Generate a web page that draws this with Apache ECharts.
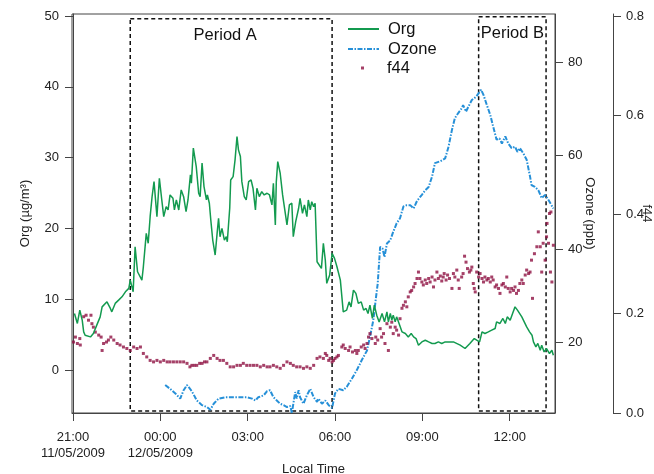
<!DOCTYPE html>
<html>
<head>
<meta charset="utf-8">
<script src="https://cdn.jsdelivr.net/npm/echarts@6/dist/echarts.min.js"></script>
<style>
html, body { margin: 0; padding: 0; background: #fff; }
#chart { width: 654px; height: 474px; }
</style>
</head>
<body>
<div id="chart"></div>
<script>
// Time is given in minutes after 21:00 on 11/05/2009.
const orgTime = [3,9,14,19,22,25,36,42,49,56,60,63,70,77,80,87,94,101,108,115,118,124,128,133,137,142,145,151,155,159,163,167,173,178,183,187,192,196,200,206,209,213,218,223,228,233,237,242,244,248,254,259,262,266,270,275,277,281,284,288,293,297,300,303,307,312,316,318,323,325,330,334,338,341,345,348,353,357,362,367,371,376,379,384,389,394,400,405,410,413,417,419,422,427,432,436,441,446,451,454,459,465,468,473,477,482,485,489,492,496,499,503,507,512,516,520,523,529,534,539,544,551,557,564,569,573,578,583,588,594,599,604,608,612,617,621,626,631,637,642,647,650,654,657,660,664,667,672,678,685,691,697,702,707,712,719,726,733,740,746,753,760,767,784,798,808,818,827,832,838,843,849,856,863,870,873,880,886,891,895,901,906,911,916,920,925,930,935,941,946,949,954,958,963,966,971,976,982,987,990];
const orgValue = [7.98,6.57,8.45,7.03,5.38,4.91,4.67,5.15,6.33,7.5,8.91,8.69,9.62,8.69,8.21,9.4,9.86,10.33,11.04,11.52,12.69,11.04,17.4,13.87,14.11,12.69,14.57,19.3,17.89,21.65,24.48,26.6,21.65,27.08,24.01,21.65,23.07,22.6,24.72,24.25,22.6,24.01,22.6,25.43,24.48,22.36,24.01,27.55,26.38,31.33,28.73,24.96,24.48,29.21,25.9,24.01,24.72,23.55,21.18,18.35,16.23,19.3,21.42,18.82,20.01,18.35,18.82,18.11,22.84,26.84,27.31,29.67,32.97,31.09,30.14,26.6,24.48,24.01,26.6,26.84,25.67,22.6,25.67,24.48,25.19,24.72,24.96,24.72,23.31,26.38,20.48,26.6,29.43,27.79,24.72,24.48,20.48,23.31,23.55,18.82,20.94,22.84,24.25,22.13,23.31,21.65,24.01,22.6,23.77,23.07,23.55,15.28,15.06,14.35,17.89,15.52,12.23,13.4,16.47,15.76,14.57,12.69,8.21,8.45,9.62,8.91,11.28,10.81,9.4,9.62,8.45,8.69,7.98,9.16,7.27,9.16,7.74,6.79,7.98,6.79,8.21,6.79,7.98,7.03,7.74,6.79,7.5,6.57,5.38,5.15,4.67,5.15,4.67,4.44,3.5,3.96,4.2,3.96,3.74,3.74,3.96,3.74,3.96,3.96,3.5,3.03,3.74,4.44,4.2,3.96,5.38,5.15,5.38,5.62,5.86,6.79,6.57,7.27,6.57,7.5,7.03,7.98,8.91,8.45,8.21,7.5,6.79,6.08,5.38,4.91,3.96,3.25,3.74,2.79,3.5,2.55,3.03,2.32,2.79,2.08];

const ozoneTime = [190,200,211,221,228,235,242,248,255,266,276,283,290,300,314,334,358,369,376,382,393,400,406,413,420,427,434,441,448,451,458,461,465,468,475,482,489,496,503,506,513,520,527,534,540,547,557,564,575,585,595,606,612,619,623,628,631,633,638,642,647,654,660,667,674,681,688,695,702,709,719,726,733,740,746,757,767,774,781,787,794,801,804,810,815,822,831,841,846,853,860,866,873,879,884,891,897,904,911,916,921,928,935,942,945,952,959,966,973,980,990];
const ozoneValue = [10.9,10.1,9.1,8.0,9.8,10.9,10.0,9.0,7.6,6.6,6.2,5.6,6.9,8.0,8.3,8.3,8.3,8.0,7.6,8.3,8.7,9.6,9.8,8.3,7.6,6.9,6.6,6.2,6.4,4.9,9.4,8.0,9.8,8.3,6.9,8.7,10.1,8.3,7.3,8.0,6.9,7.6,6.6,6.0,9.1,10.1,9.8,10.5,12.3,14.1,16.2,18.3,21.2,24.8,28.4,32.6,37.3,40.5,40.1,38.3,41.2,41.9,43.7,45.5,46.6,49.1,49.4,49.4,48.7,50.3,51.6,52.6,53.3,55.5,58.4,58.8,59.4,61.9,65.5,68.0,69.1,70.1,70.8,69.4,70.5,71.9,72.6,74.1,73.0,70.8,68.7,66.2,63.4,63.7,62.6,64.1,62.6,61.6,61.9,60.8,61.6,60.5,59.1,55.5,53.7,53.3,52.6,50.9,51.6,50.5,48.7];

const f44Time = [1,5,9,14,15,22,27,32,37,39,42,46,53,58,60,63,69,73,78,84,91,97,104,111,118,125,132,139,145,152,159,166,173,180,187,194,200,207,214,221,228,235,241,245,250,255,261,266,271,276,283,290,297,303,310,317,324,331,338,345,351,358,365,372,379,386,393,400,406,413,420,427,434,441,448,454,461,468,475,482,489,496,503,509,516,520,523,527,530,534,537,540,544,547,554,557,561,568,571,576,582,585,588,594,599,602,606,609,612,616,623,624,628,633,636,640,643,647,650,654,657,660,664,667,671,674,678,681,685,688,691,695,698,702,705,709,712,715,719,722,726,729,733,736,740,743,746,750,753,757,760,763,765,769,772,776,781,784,787,791,794,796,801,804,807,810,813,817,820,822,825,827,829,832,836,839,843,846,849,853,856,860,863,866,870,873,877,880,884,887,891,894,897,901,904,908,911,914,918,921,925,928,932,935,939,942,945,947,951,956,959,963,966,969,973,976,977,980,982,984,985,987,990];
const f44Value = [0.143,0.153,0.140,0.150,0.137,0.194,0.197,0.187,0.197,0.180,0.173,0.163,0.157,0.153,0.126,0.140,0.143,0.147,0.153,0.147,0.140,0.137,0.133,0.130,0.126,0.133,0.130,0.133,0.120,0.113,0.106,0.103,0.106,0.103,0.106,0.103,0.103,0.103,0.103,0.103,0.103,0.100,0.093,0.096,0.096,0.096,0.100,0.100,0.103,0.103,0.110,0.116,0.110,0.106,0.106,0.100,0.093,0.093,0.096,0.096,0.100,0.096,0.096,0.096,0.096,0.093,0.096,0.093,0.093,0.096,0.093,0.090,0.096,0.103,0.100,0.096,0.093,0.093,0.090,0.093,0.090,0.096,0.110,0.113,0.110,0.120,0.116,0.106,0.110,0.103,0.106,0.110,0.113,0.116,0.133,0.137,0.130,0.126,0.133,0.123,0.126,0.120,0.126,0.133,0.137,0.130,0.140,0.153,0.160,0.150,0.140,0.153,0.147,0.170,0.153,0.160,0.140,0.180,0.126,0.173,0.183,0.160,0.173,0.167,0.157,0.190,0.211,0.217,0.224,0.214,0.234,0.244,0.247,0.254,0.261,0.271,0.284,0.271,0.264,0.258,0.268,0.261,0.271,0.264,0.274,0.254,0.268,0.284,0.271,0.276,0.266,0.274,0.281,0.268,0.278,0.271,0.251,0.281,0.274,0.288,0.268,0.251,0.274,0.281,0.316,0.304,0.291,0.284,0.288,0.294,0.261,0.251,0.244,0.284,0.274,0.281,0.271,0.264,0.274,0.268,0.271,0.264,0.274,0.268,0.254,0.258,0.251,0.241,0.258,0.261,0.254,0.274,0.251,0.244,0.251,0.247,0.254,0.241,0.247,0.261,0.268,0.261,0.278,0.288,0.281,0.284,0.308,0.231,0.321,0.335,0.365,0.335,0.284,0.342,0.308,0.355,0.382,0.342,0.402,0.284,0.405,0.264,0.338];

const timeTicks = [0, 180, 360, 540, 720, 900];
const timeTickLabels = ['21:00\n11/05/2009', '00:00\n12/05/2009', '03:00', '06:00', '09:00', '12:00'];
const orgTicks = [0, 10, 20, 30, 40, 50];
const ozoneTicks = [20, 40, 60, 80];
const f44Ticks = [0, 0.2, 0.4, 0.6, 0.8];

const periodNames = ['Period A', 'Period B'];
const periodStart = [118, 836];
const periodEnd = [534, 975];
const periodTop = [49.6, 49.9];   // in Org units
const periodBottom = -5.8;

const FONT = '"Liberation Sans", Arial, Helvetica, sans-serif';
const AXIS_COLOR = '#444';
const TEXT_COLOR = '#222';
const GREEN = '#139a4f';
const BLUE = '#2690d8';
const MAROON = '#8e1242';

const zip = (xs, ys) => xs.map((x, i) => [x, ys[i]]);

const chart = echarts.init(document.getElementById('chart'), null, { renderer: 'canvas' });

const yAxisCommon = (ticks, fmt) => ({
  type: 'value',
  splitLine: { show: false },
  axisLine: { show: true, lineStyle: { color: AXIS_COLOR, width: 1 } },
  axisTick: { show: true, length: 8, customValues: ticks, lineStyle: { color: AXIS_COLOR } },
  axisLabel: { customValues: ticks, margin: 13, fontSize: 13, color: TEXT_COLOR, fontFamily: FONT, formatter: fmt },
  nameLocation: 'middle',
  nameMoveOverlap: false,
  nameTextStyle: { fontSize: 13, color: TEXT_COLOR, fontFamily: FONT }
});

const legendBase = {
  orient: 'horizontal',
  padding: 0,
  itemGap: 0,
  selectedMode: false,
  textStyle: { fontSize: 16.5, color: '#111', fontFamily: FONT, lineHeight: 18, padding: [0, 0, 0, 4] }
};

chart.setOption({
  animation: false,
  backgroundColor: '#fff',
  grid: {
    left: 72, right: 99, top: 14, bottom: 61,
    outerBoundsMode: 'none',
    containLabel: false,
    show: true, borderColor: AXIS_COLOR, borderWidth: 1, backgroundColor: 'transparent'
  },
  legend: [
    Object.assign({}, legendBase, { left: 347, top: 20, itemWidth: 31, itemHeight: 14, itemStyle: { opacity: 0 }, data: ['Org'] }),
    Object.assign({}, legendBase, { left: 347, top: 40, itemWidth: 31, itemHeight: 14, itemStyle: { opacity: 0 }, data: ['Ozone'] }),
    Object.assign({}, legendBase, {
      left: 361, top: 59, itemWidth: 3, itemHeight: 3,
      textStyle: Object.assign({}, legendBase.textStyle, { padding: [0, 0, 0, 18] }),
      data: [{ name: 'f44', icon: 'rect' }]
    })
  ],
  xAxis: {
    type: 'value',
    min: -2.06,
    max: 993.4,
    splitLine: { show: false },
    axisLine: { show: true, onZero: false, lineStyle: { color: AXIS_COLOR, width: 1 } },
    axisTick: { show: true, length: 8, customValues: timeTicks, lineStyle: { color: AXIS_COLOR } },
    axisLabel: {
      customValues: timeTicks,
      margin: 16,
      fontSize: 13,
      lineHeight: 16,
      color: TEXT_COLOR,
      fontFamily: FONT,
      formatter: v => timeTickLabels[timeTicks.indexOf(v)]
    },
    name: 'Local Time',
    nameLocation: 'middle',
    nameGap: 50,
    nameMoveOverlap: false,
    nameTextStyle: { fontSize: 13, color: TEXT_COLOR, fontFamily: FONT }
  },
  yAxis: [
    Object.assign(yAxisCommon(orgTicks, v => String(v)), {
      position: 'left', min: -6.08, max: 50.28,
      name: 'Org (µg/m³)', nameGap: 40
    }),
    Object.assign(yAxisCommon(ozoneTicks, v => String(v)), {
      position: 'right', min: 4.92, max: 90.3,
      name: 'Ozone (ppb)', nameGap: 28, nameRotate: -90
    }),
    Object.assign(yAxisCommon(f44Ticks, v => v.toFixed(1)), {
      position: 'right', offset: 58, min: 0, max: 0.804,
      name: 'f44', nameGap: 27, nameRotate: -90
    })
  ],
  series: [
    {
      name: 'Org',
      type: 'line',
      yAxisIndex: 0,
      data: zip(orgTime, orgValue),
      symbol: 'none',
      color: GREEN,
      lineStyle: { color: GREEN, width: 1.5 },
      z: 3,
      markArea: {
        silent: true,
        itemStyle: { color: 'rgba(0,0,0,0)', borderColor: '#111', borderWidth: 1.5, borderType: [4, 3] },
        label: { position: 'insideTop', distance: 9, fontSize: 16.5, color: '#111', fontFamily: FONT },
        data: periodNames.map((n, i) => [
          { name: n, xAxis: periodStart[i], yAxis: periodTop[i], label: { offset: [i === 0 ? -6 : 0, 0] } },
          { xAxis: periodEnd[i], yAxis: periodBottom }
        ])
      }
    },
    {
      name: 'Ozone',
      type: 'line',
      yAxisIndex: 1,
      data: zip(ozoneTime, ozoneValue),
      symbol: 'none',
      color: BLUE,
      lineStyle: { color: BLUE, width: 2, type: [5, 1.5, 1.5, 1.5] },
      z: 2
    },
    {
      name: 'f44',
      type: 'scatter',
      yAxisIndex: 2,
      data: zip(f44Time, f44Value),
      symbol: 'rect',
      symbolSize: 3,
      color: MAROON,
      itemStyle: { color: MAROON },
      z: 2
    }
  ]
});
</script>
</body>
</html>
